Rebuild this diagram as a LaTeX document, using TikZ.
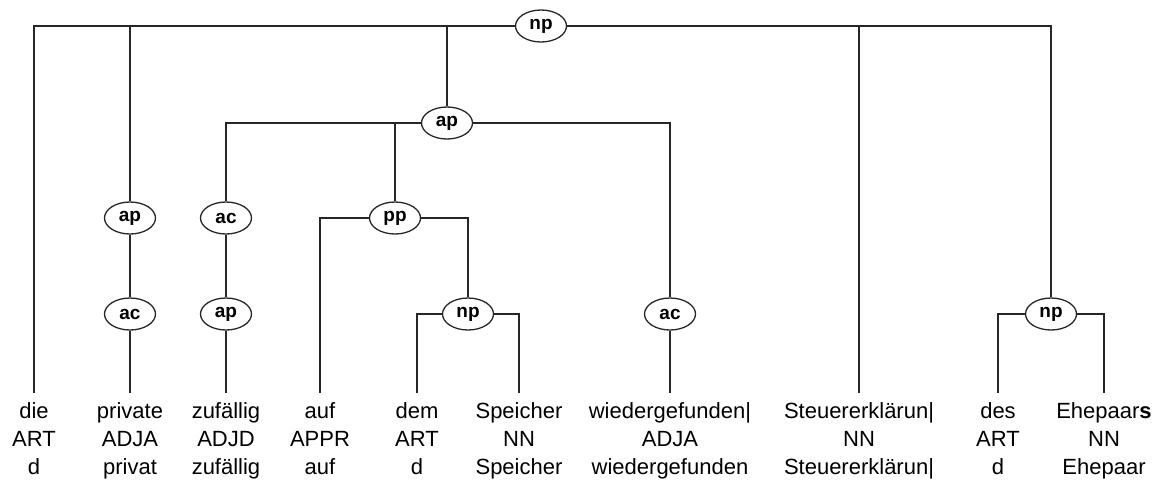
\documentclass[tikz,border=0pt]{standalone}
\usepackage{fontspec}
\setmainfont{Liberation Sans}
\usetikzlibrary{shapes.geometric}
\colorlet{treecol}{black!85}

\tikzset{
  cat/.style={ellipse, draw=treecol, line width=0.65pt, fill=white,
    minimum width=25.5pt, minimum height=16pt, inner sep=0pt,
    font=\fontsize{9.5}{11}\selectfont\bfseries},
  word/.style={anchor=base, inner xsep=0pt, inner ysep=4.25pt,
    text height=8pt, text depth=2.5pt, font=\fontsize{11}{13}\selectfont},
  branch/.style={line width=0.65pt, treecol},
}

% leaf: name, x, word, tag, lemma
\newcommand{\leaf}[5]{%
  \node[word] (#1) at (#2,418) {#3};
  \node[word] (#1-tag) at (#2,446) {#4};
  \node[word] (#1-lem) at (#2,474) {#5};}

\begin{document}
\begin{tikzpicture}[x=0.5pt, y=-0.5pt]
  \useasboundingbox (0,0) rectangle (1162,489);

  % phrase nodes
  \node[cat] (np0) at (541,26) {np};
  \node[cat] (ap1) at (447,123) {ap};
  \node[cat] (ap2) at (130,218) {ap};
  \node[cat] (ac2) at (130,314) {ac};
  \node[cat] (ac3) at (226,218) {ac};
  \node[cat] (ap3) at (226,314) {ap};
  \node[cat] (pp4) at (395,218) {pp};
  \node[cat] (np4) at (468,314) {np};
  \node[cat] (ac5) at (670,314) {ac};
  \node[cat] (np6) at (1051,314) {np};

  % words
  \leaf{die}{34}{die}{ART}{d}
  \leaf{private}{130}{private}{ADJA}{privat}
  \leaf{zufaellig}{226}{zufällig}{ADJD}{zufällig}
  \leaf{auf}{320}{auf}{APPR}{auf}
  \leaf{dem}{417}{dem}{ART}{d}
  \leaf{speicher}{519}{Speicher}{NN}{Speicher}
  \leaf{wieder}{670}{wiedergefunden|}{ADJA}{wiedergefunden}
  \leaf{steuer}{859}{Steuererklärun|}{NN}{Steuererklärun|}
  \leaf{des}{998}{des}{ART}{d}
  \leaf{ehepaar}{1104}{Ehepaar\textbf{s}}{NN}{Ehepaar}

  % branches
  \draw[branch] (np0.west) -| (die);
  \draw[branch] (np0.west) -| (ap2);
  \draw[branch] (np0.west) -| (ap1);
  \draw[branch] (np0.east) -| (steuer);
  \draw[branch] (np0.east) -| (np6);

  \draw[branch] (ap1.west) -| (ac3);
  \draw[branch] (ap1.west) -| (pp4);
  \draw[branch] (ap1.east) -| (ac5);

  \draw[branch] (ap2) -- (ac2);
  \draw[branch] (ac2) -- (private);
  \draw[branch] (ac3) -- (ap3);
  \draw[branch] (ap3) -- (zufaellig);

  \draw[branch] (pp4.west) -| (auf);
  \draw[branch] (pp4.east) -| (np4);
  \draw[branch] (np4.west) -| (dem);
  \draw[branch] (np4.east) -| (speicher);

  \draw[branch] (ac5) -- (wieder);
  \draw[branch] (np6.west) -| (des);
  \draw[branch] (np6.east) -| (ehepaar);
\end{tikzpicture}
\end{document}
